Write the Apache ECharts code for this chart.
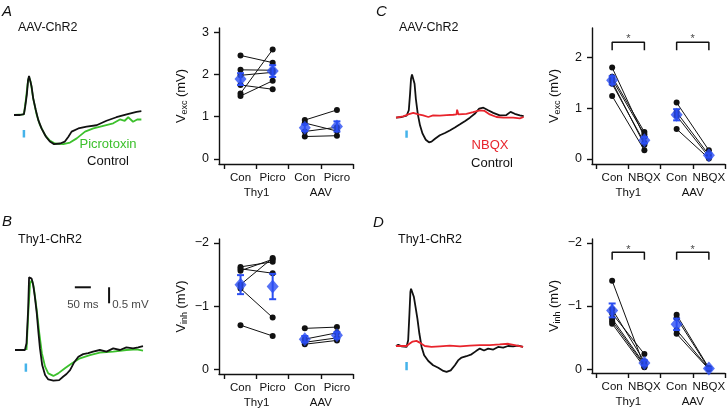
<!DOCTYPE html>
<html>
<head>
<meta charset="utf-8">
<script src="https://cdn.jsdelivr.net/npm/echarts@6/dist/echarts.min.js"></script>
<style>
  html, body { margin: 0; padding: 0; background: #fff; }
  #chart { width: 727px; height: 412px; }
</style>
</head>
<body>
<div id="chart"></div>
<script>
const FONT = '"Liberation Sans", Arial, sans-serif';
const INK = '#111';
const BLUE = '#2b4ef2';
const STIM = '#45b3ea';
const GREEN = '#3cc02c';
const RED = '#e8242c';

// ---- categories / ticks ----
const groupsPicro = ['Con', 'Picro', 'Con', 'Picro'];
const groupsNbqx = ['Con', 'NBQX', 'Con', 'NBQX'];
const mouseLines = ['Thy1', 'AAV'];
const groupX = [1, 2, 3, 4];
const lineX = [1.5, 3.5];
const xTicks = [0.5, 1.5, 2.5, 3.5, 4.5];
const ticksExcA = [0, 1, 2, 3];
const ticksExcC = [0, 1, 2];
const ticksInh = [-2, -1, 0];

// ---- A: Vexc, picrotoxin (mV) ----
const aThy1Con = [2.45, 2.11, 1.98, 1.75, 1.55, 1.49];
const aThy1Picro = [2.28, 2.10, 2.05, 1.65, 2.59, 1.85];
const aAavCon = [0.92, 0.85, 0.65, 0.53];
const aAavPicro = [1.16, 0.66, 0.75, 0.55];
const aMean = [1.89, 2.08, 0.74, 0.77];
const aSem = [0.14, 0.14, 0.08, 0.12];

// ---- B: Vinh, picrotoxin ----
const bThy1Con = [-1.62, -1.59, -1.56, -1.34, -1.28, -0.70];
const bThy1Picro = [-1.70, -1.52, -1.74, -1.76, -0.82, -0.53];
const bAavCon = [-0.65, -0.48, -0.43, -0.40];
const bAavPicro = [-0.67, -0.58, -0.50, -0.46];
const bMean = [-1.34, -1.31, -0.48, -0.54];
const bSem = [0.15, 0.20, 0.05, 0.05];

// ---- C: Vexc, NBQX ----
const cThy1Con = [1.80, 1.62, 1.57, 1.52, 1.48, 1.24];
const cThy1Nbqx = [0.43, 0.53, 0.48, 0.28, 0.32, 0.17];
const cAavCon = [1.11, 0.92, 0.85, 0.59];
const cAavNbqx = [0.17, 0.08, 0.04, 0.01];
const cMean = [1.55, 0.37, 0.87, 0.07];
const cSem = [0.08, 0.06, 0.11, 0.04];
const cBracket = [2.14, 2.30];
const cStar = 2.36;

// ---- D: Vinh, NBQX ----
const dThy1Con = [-1.40, -0.95, -0.88, -0.80, -0.76, -0.72];
const dThy1Nbqx = [-0.04, -0.12, -0.24, -0.08, -0.06, -0.03];
const dAavCon = [-0.86, -0.81, -0.62, -0.56];
const dAavNbqx = [-0.02, -0.01, -0.01, 0.0];
const dMean = [-0.93, -0.10, -0.71, -0.01];
const dSem = [0.11, 0.04, 0.09, 0.01];
const dBracket = [-1.73, -1.85];
const dStar = -1.89;

// ---- example traces [ms, mV] ----
const traceAControl = [[0,0],[19,0],[31,0.03],[35,0.26],[40,0.63],[44,1.09],[47,1.22],[50,1.18],[55,0.89],[60,0.52],[68,0.16],[76,-0.16],[86,-0.42],[100,-0.68],[112,-0.83],[125,-0.91],[144,-0.89],[159,-0.83],[170,-0.68],[180,-0.52],[201,-0.42],[227,-0.36],[258,-0.32],[289,-0.18],[320,-0.07],[352,0.02],[383,0.10],[398,0.12]];
const traceAPicro = [[0,0],[31,0.02],[37,0.47],[44,1.09],[47,1.18],[52,1.04],[60,0.52],[71,0],[81,-0.31],[97,-0.63],[112,-0.80],[128,-0.89],[154,-0.91],[175,-0.86],[196,-0.73],[222,-0.52],[248,-0.42],[279,-0.34],[310,-0.26],[331,-0.14],[346,-0.18],[357,-0.07],[372,-0.21],[385,-0.14],[398,-0.14]];
const traceBControl = [[0,0],[31,0],[36,0.21],[41,1.25],[44,2.27],[47,2.31],[52,2.23],[57,2.03],[62,1.67],[68,1.15],[73,0.57],[78,0.05],[85,-0.47],[94,-0.78],[104,-0.92],[120,-0.96],[138,-0.94],[151,-0.83],[161,-0.75],[172,-0.63],[184,-0.40],[198,-0.21],[213,-0.13],[229,-0.10],[244,-0.05],[265,0],[286,-0.05],[307,0.05],[328,0],[348,0.08],[369,0.05],[385,0.08],[400,0.12]];
const traceBPicro = [[36,0],[42,1.25],[47,2.08],[53,2.19],[59,1.93],[68,1.25],[76,0.52],[84,-0.10],[94,-0.52],[104,-0.73],[120,-0.81],[135,-0.73],[156,-0.57],[177,-0.42],[203,-0.26],[234,-0.16],[265,-0.08],[307,-0.05],[348,0],[380,0.02],[400,-0.02]];
const traceCControl = [[0,-0.02],[18,0],[33,0.04],[40,0.21],[44,0.73],[47,1.20],[50,1.33],[54,1.31],[58,1.04],[62,0.57],[68,0.10],[75,-0.26],[83,-0.52],[93,-0.71],[103,-0.79],[111,-0.77],[122,-0.68],[137,-0.57],[153,-0.50],[168,-0.42],[184,-0.33],[200,-0.23],[215,-0.13],[231,-0.02],[246,0.10],[260,0.26],[273,0.29],[288,0.21],[304,0.13],[324,0.05],[345,0.06],[358,0.16],[364,0.21],[371,0.10],[387,0.05],[399,0.03]];
const traceCNbqx = [[0,-0.02],[23,0.02],[38,0.08],[54,0.13],[70,0.08],[85,0.05],[101,0],[116,0.05],[137,0.04],[158,0.06],[179,0.07],[189,0.08],[191,0.23],[195,0.08],[220,0.10],[241,0.15],[262,0.21],[277,0.19],[293,0.08],[314,0],[335,-0.02],[366,-0.02],[387,-0.04],[399,0]];
const traceDControl = [[0,0],[7,0.04],[18,-0.01],[33,-0.03],[38,0.18],[42,1.01],[45,1.69],[47,1.79],[51,1.74],[56,1.53],[61,1.22],[67,0.85],[73,0.39],[80,-0.03],[88,-0.29],[101,-0.47],[116,-0.60],[132,-0.68],[148,-0.78],[158,-0.81],[171,-0.76],[184,-0.60],[194,-0.45],[205,-0.36],[220,-0.32],[236,-0.26],[250,-0.16],[262,-0.08],[275,-0.14],[288,-0.08],[304,-0.11],[319,-0.03],[335,-0.05],[350,0],[366,-0.01],[382,0.01],[397,-0.03]];
const traceDNbqx = [[0,0],[33,0],[42,0.07],[52,0.14],[64,0.16],[77,0.09],[90,0],[111,-0.03],[137,-0.01],[168,0.01],[200,-0.01],[231,0.01],[262,0.03],[293,0.03],[324,0.05],[351,0.07],[371,0.03],[397,-0.03]];
// light pulse: [time, from, to]
const stimA = [31, -0.47, -0.70];
const stimB = [34, -0.42, -0.68];
const stimC = [33, -0.42, -0.65];
const stimD = [33, -0.50, -0.76];
// scale bar in B: 50 ms / 0.5 mV
const scaleTime = [187, 237];
const scaleVolt = [1.96, 1.46];
const scaleVoltT = 294;

const chart = echarts.init(document.getElementById('chart'), null, { renderer: 'canvas' });

const grids = [
  { left: 14, top: 67, width: 128, height: 96 },     // A trace
  { left: 219, top: 28, width: 134, height: 136 },   // A summary
  { left: 15, top: 270, width: 128, height: 128 },   // B trace
  { left: 219, top: 239, width: 134, height: 135 },  // B summary
  { left: 396, top: 69, width: 128, height: 96 },    // C trace
  { left: 592, top: 28, width: 133, height: 136 },   // C summary
  { left: 396, top: 266, width: 128, height: 128 },  // D trace
  { left: 592, top: 239, width: 133, height: 134 }   // D summary
].map(g => Object.assign({ containLabel: false, outerBoundsMode: 'none' }, g));

const xAxes = [];
const yAxes = [];
const series = [];

function addTrace(gi, yMin, yMax, traces, stim) {
  const xi = xAxes.length, yi = yAxes.length;
  xAxes.push({ type: 'value', gridIndex: gi, min: 0, max: 400, show: false });
  yAxes.push({ type: 'value', gridIndex: gi, min: yMin, max: yMax, show: false });
  traces.forEach(([data, color]) => {
    series.push({ type: 'line', xAxisIndex: xi, yAxisIndex: yi, data, symbol: 'none',
      lineStyle: { color, width: 1.8 }, silent: true });
  });
  series.push({ type: 'line', xAxisIndex: xi, yAxisIndex: yi, symbol: 'none',
    data: [[stim[0], stim[1]], [stim[0], stim[2]]], lineStyle: { color: STIM, width: 2.5 } });
  return [xi, yi];
}

const axisLine = { show: true, onZero: false, lineStyle: { color: INK, width: 1.4 } };
const labelText = { color: INK, fontFamily: FONT, fontSize: 11.5 };

function addSummary(gi, p) {
  const xi = xAxes.length, yi = yAxes.length;
  xAxes.push({
    type: 'value', gridIndex: gi, min: p.xMin, max: 4.5, position: 'bottom',
    axisLine, splitLine: { show: false },
    axisTick: { show: true, length: 5, customValues: xTicks, lineStyle: { color: INK, width: 1.4 } },
    axisLabel: Object.assign({ customValues: groupX, margin: 8, formatter: v => p.groups[Math.round(v) - 1] }, labelText)
  });
  xAxes.push({
    type: 'value', gridIndex: gi, min: p.xMin, max: 4.5, position: 'bottom', offset: 15,
    axisLine: { show: false }, axisTick: { show: false }, splitLine: { show: false },
    axisLabel: Object.assign({ customValues: lineX, margin: 8, formatter: v => mouseLines[v < 2.5 ? 0 : 1] }, labelText)
  });
  yAxes.push({
    type: 'value', gridIndex: gi, min: p.yMin, max: p.yMax, inverse: !!p.inverse,
    axisLine, splitLine: { show: false },
    axisTick: { show: true, length: 5, customValues: p.ticks, lineStyle: { color: INK, width: 1.4 } },
    axisLabel: { customValues: p.ticks, margin: 10, color: INK, fontFamily: FONT, fontSize: 12.5,
      formatter: v => (v < 0 ? '\u2212' + Math.abs(v) : String(v)) },
    name: '{v|V}{s|' + p.sub + '} {v|(mV)}', nameLocation: 'middle', nameGap: 30, nameRotate: 90,
    nameTextStyle: { fontFamily: FONT, color: INK, rich: {
      v: { fontSize: 13, fontFamily: FONT, color: INK },
      s: { fontSize: 9, fontFamily: FONT, color: INK, padding: [7, 0, 0, 0] }
    } }
  });
  const pairs = [[p.thy1[0], p.thy1[1], 1], [p.aav[0], p.aav[1], 3]];
  pairs.forEach(([con, drug, x0]) => {
    con.forEach((v, i) => {
      series.push({ type: 'line', xAxisIndex: xi, yAxisIndex: yi, data: [[x0, v], [x0 + 1, drug[i]]],
        symbol: 'circle', symbolSize: 6, itemStyle: { color: INK }, lineStyle: { color: INK, width: 1 }, z: 2 });
    });
  });
  series.push({
    type: 'custom', xAxisIndex: xi, yAxisIndex: yi, z: 3,
    data: p.mean.map((m, i) => [groupX[i], m - p.sem[i], m + p.sem[i]]),
    encode: { x: 0, y: [1, 2] },
    renderItem: (params, api) => {
      const x = api.value(0);
      const a = api.coord([x, api.value(1)]);
      const b = api.coord([x, api.value(2)]);
      const w = 3.5;
      const style = { stroke: BLUE, lineWidth: 2 };
      return { type: 'group', children: [
        { type: 'line', shape: { x1: a[0], y1: a[1], x2: b[0], y2: b[1] }, style },
        { type: 'line', shape: { x1: a[0] - w, y1: a[1], x2: a[0] + w, y2: a[1] }, style },
        { type: 'line', shape: { x1: b[0] - w, y1: b[1], x2: b[0] + w, y2: b[1] }, style }
      ] };
    }
  });
  series.push({ type: 'scatter', xAxisIndex: xi, yAxisIndex: yi, z: 4, symbol: 'diamond', symbolSize: [12, 14],
    itemStyle: { color: BLUE }, data: p.mean.map((m, i) => [groupX[i], m]) });
  if (p.bracket) {
    const [lo, hi] = p.bracket;
    [1, 3].forEach(x0 => {
      series.push({ type: 'line', xAxisIndex: xi, yAxisIndex: yi, symbol: 'none',
        data: [[x0, lo], [x0, hi], [x0 + 1, hi], [x0 + 1, lo]], lineStyle: { color: INK, width: 1.5 } });
    });
    series.push({ type: 'scatter', xAxisIndex: xi, yAxisIndex: yi, symbolSize: 1, itemStyle: { color: 'rgba(0,0,0,0)' },
      data: lineX.map(x => [x, p.star]),
      label: { show: true, position: 'inside', formatter: '*', color: INK, fontFamily: FONT, fontSize: 11 } });
  }
}

addTrace(0, -1.5, 1.5, [[traceAPicro, GREEN], [traceAControl, INK]], stimA);
addSummary(1, { xMin: 0.33, yMin: -0.12, yMax: 3.1, ticks: ticksExcA, sub: 'exc', groups: groupsPicro,
  thy1: [aThy1Con, aThy1Picro], aav: [aAavCon, aAavPicro], mean: aMean, sem: aSem });

const [bx, by] = addTrace(2, -1.5, 2.5, [[traceBPicro, GREEN], [traceBControl, INK]], stimB);
series.push({ type: 'line', xAxisIndex: bx, yAxisIndex: by, symbol: 'none',
  data: [[scaleTime[0], scaleVolt[0]], [scaleTime[1], scaleVolt[0]]], lineStyle: { color: INK, width: 2 } });
series.push({ type: 'line', xAxisIndex: bx, yAxisIndex: by, symbol: 'none',
  data: [[scaleVoltT, scaleVolt[0]], [scaleVoltT, scaleVolt[1]]], lineStyle: { color: INK, width: 2 } });
series.push({ type: 'scatter', xAxisIndex: bx, yAxisIndex: by, symbolSize: 1, itemStyle: { color: 'rgba(0,0,0,0)' },
  data: [{ value: [212, 1.41], label: { position: 'inside', formatter: '50 ms' } },
         { value: [302, 1.41], label: { position: 'right', distance: 0, formatter: '0.5 mV' } }],
  label: { show: true, color: INK, fontFamily: FONT, fontSize: 11.5 } });
addSummary(3, { xMin: 0.33, yMin: -2.06, yMax: 0.07, inverse: true, ticks: ticksInh, sub: 'inh', groups: groupsPicro,
  thy1: [bThy1Con, bThy1Picro], aav: [bAavCon, bAavPicro], mean: bMean, sem: bSem });

addTrace(4, -1.5, 1.5, [[traceCControl, INK], [traceCNbqx, RED]], stimC);
addSummary(5, { xMin: 0.375, yMin: -0.1, yMax: 2.58, ticks: ticksExcC, sub: 'exc', groups: groupsNbqx,
  thy1: [cThy1Con, cThy1Nbqx], aav: [cAavCon, cAavNbqx], mean: cMean, sem: cSem, bracket: cBracket, star: cStar });

addTrace(6, -1.5, 2.5, [[traceDControl, INK], [traceDNbqx, RED]], stimD);
addSummary(7, { xMin: 0.375, yMin: -2.06, yMax: 0.06, inverse: true, ticks: ticksInh, sub: 'inh', groups: groupsNbqx,
  thy1: [dThy1Con, dThy1Nbqx], aav: [dAavCon, dAavNbqx], mean: dMean, sem: dSem, bracket: dBracket, star: dStar });

const txt = (text, x, y, opt = {}) => ({
  type: 'text', x, y, silent: true,
  style: Object.assign({ text, fill: INK, font: '12.5px ' + FONT, textAlign: 'left', textVerticalAlign: 'middle' }, opt)
});
const letter = 'italic 15px ' + FONT;

chart.setOption({
  animation: false,
  backgroundColor: '#fff',
  grid: grids,
  xAxis: xAxes,
  yAxis: yAxes,
  series,
  graphic: [
    txt('A', 2, 12, { font: letter }),
    txt('AAV-ChR2', 18, 28),
    txt('Picrotoxin', 108, 144, { textAlign: 'center', fill: GREEN, font: '13px ' + FONT }),
    txt('Control', 108, 161, { textAlign: 'center', font: '13px ' + FONT }),
    txt('B', 2, 222, { font: letter }),
    txt('Thy1-ChR2', 18, 240),
    txt('C', 376, 12, { font: letter }),
    txt('AAV-ChR2', 399, 28),
    txt('NBQX', 490, 145, { textAlign: 'center', fill: RED, font: '13px ' + FONT }),
    txt('Control', 492, 163, { textAlign: 'center', font: '13px ' + FONT }),
    txt('D', 373, 223, { font: letter }),
    txt('Thy1-ChR2', 398, 240)
  ]
});
</script>
</body>
</html>
